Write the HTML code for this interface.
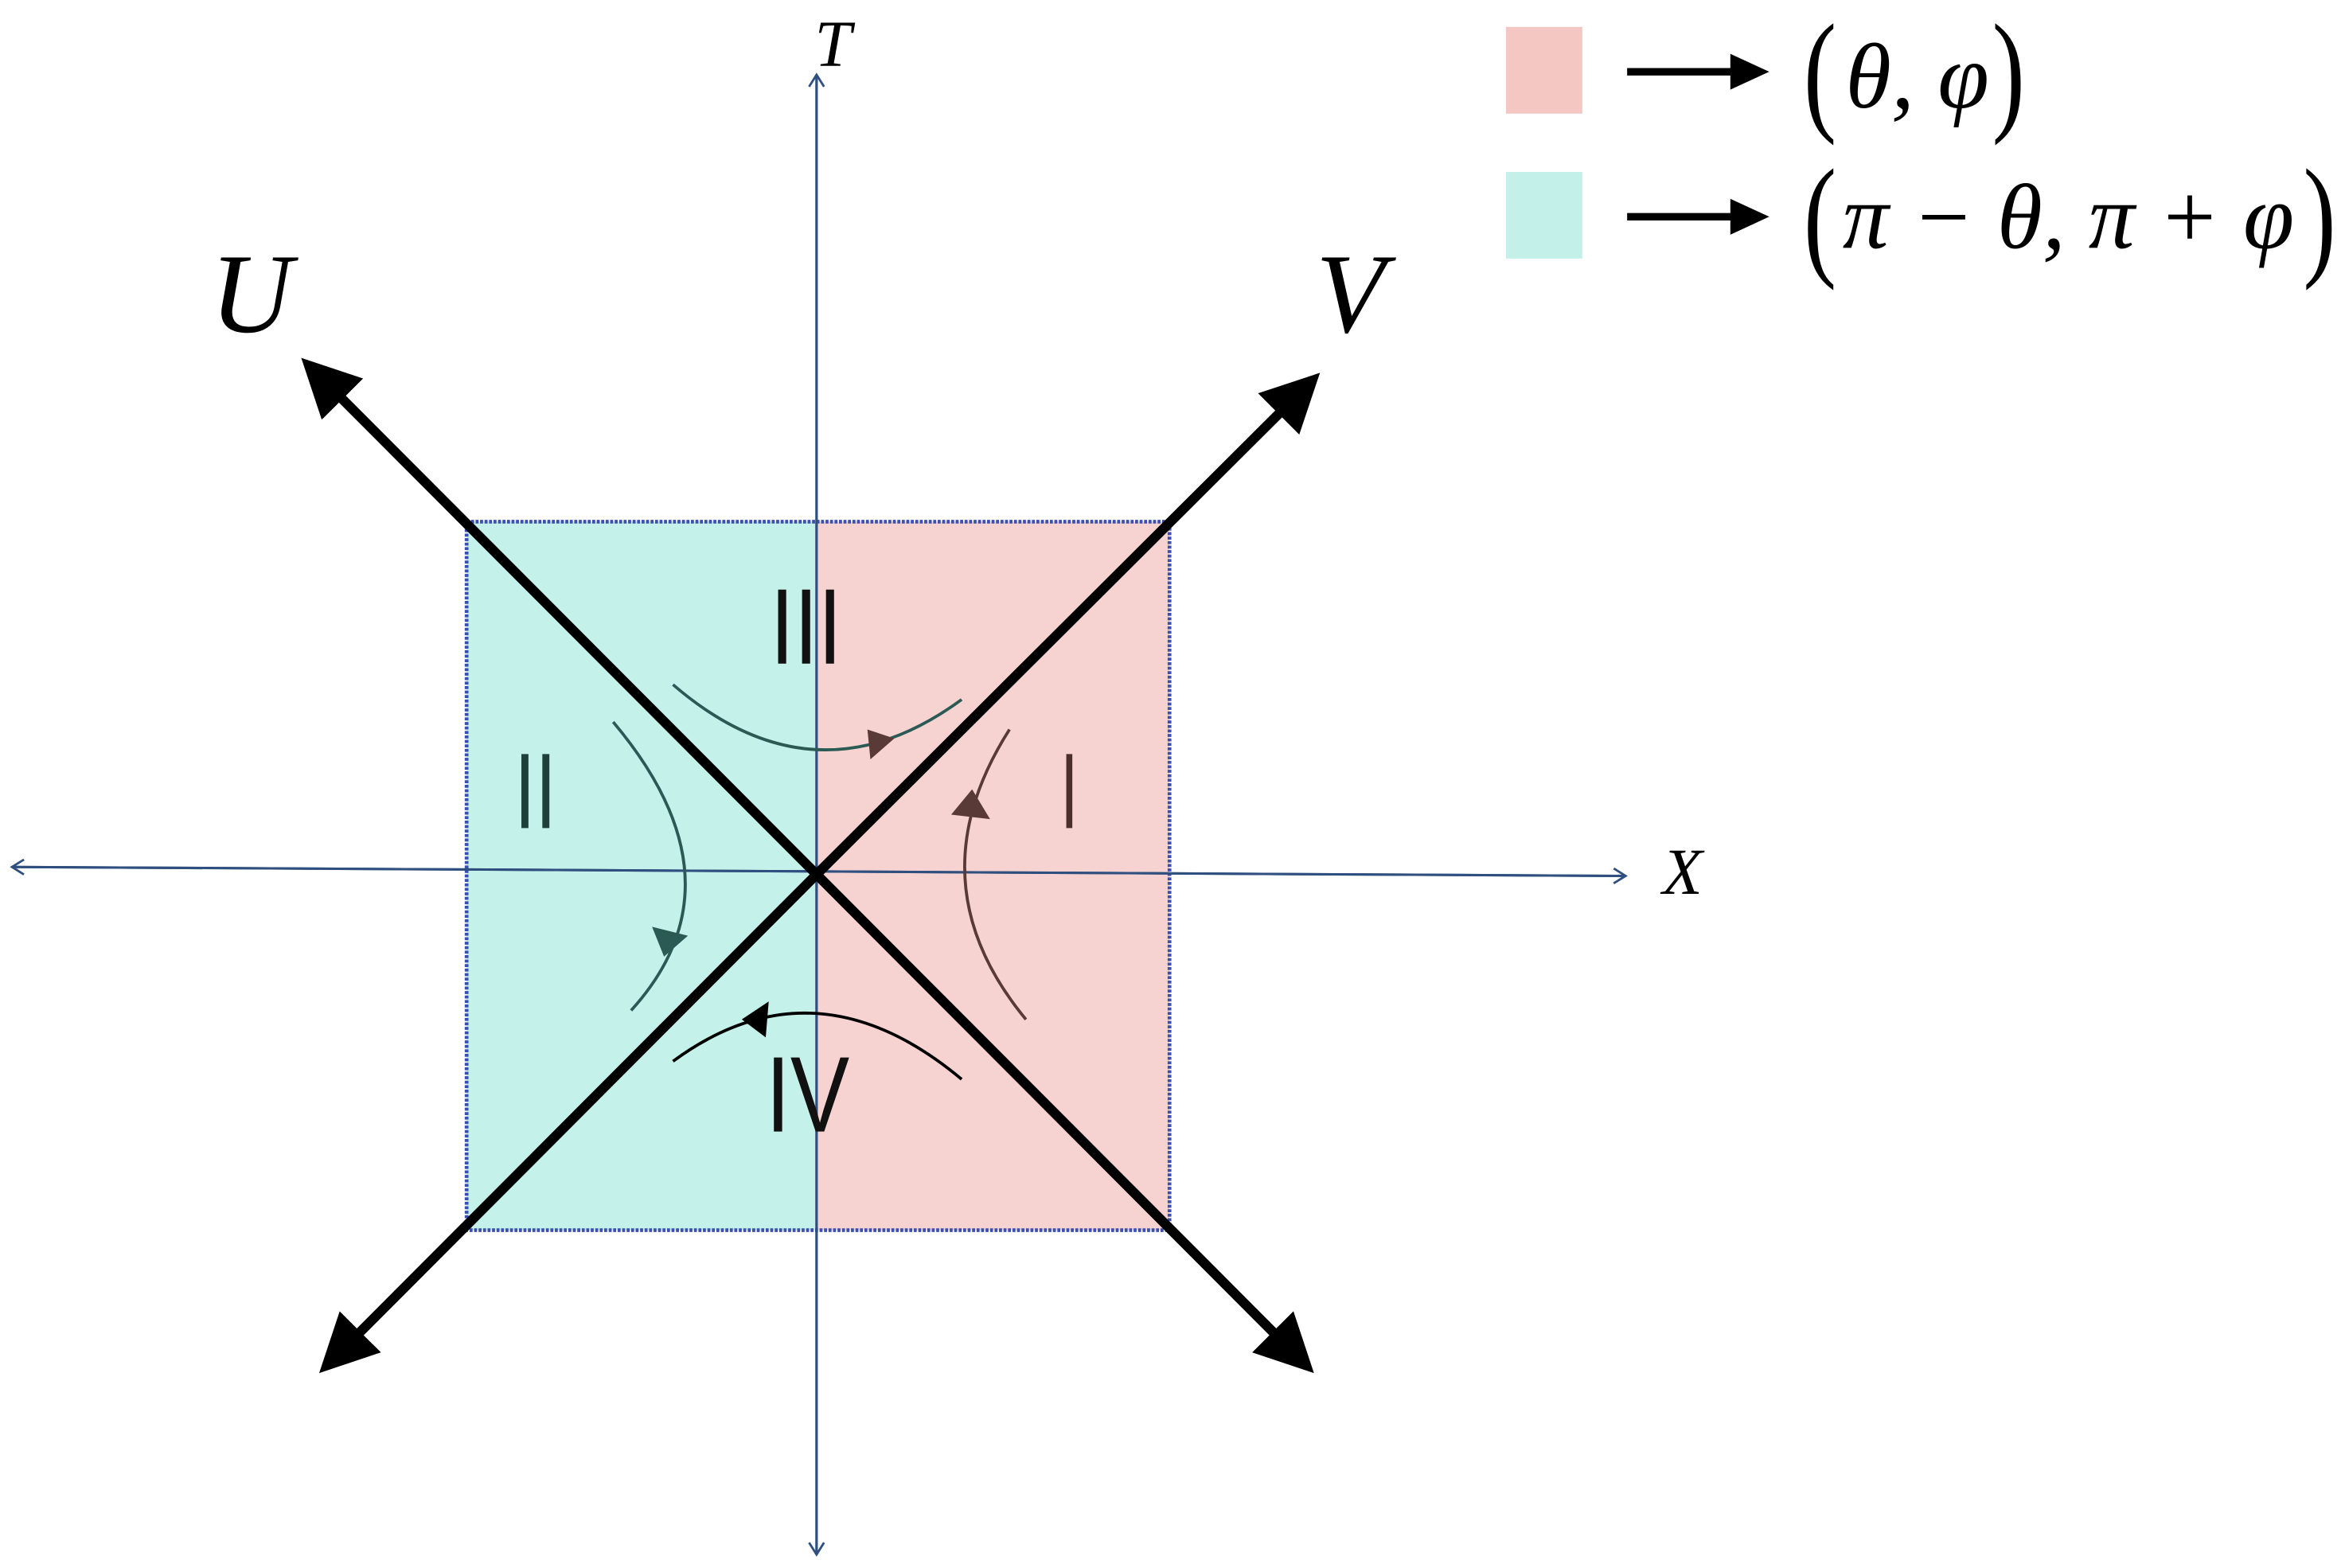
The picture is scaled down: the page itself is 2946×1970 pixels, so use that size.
<!DOCTYPE html>
<html><head><meta charset="utf-8"><style>
html,body{margin:0;padding:0;background:#fff;}
svg{display:block;}
</style></head><body>
<svg width="2946" height="1970" viewBox="0 0 1568 1049" preserveAspectRatio="none" xmlns="http://www.w3.org/2000/svg">
<defs>
<marker id="big" markerWidth="6" markerHeight="6" refX="5" refY="3" orient="auto" markerUnits="strokeWidth"><path d="M0,0 L6,3 L0,6 z" fill="#000"/></marker>
<marker id="thin" markerWidth="12" markerHeight="12" refX="10" refY="6" orient="auto" markerUnits="userSpaceOnUse"><path d="M2,1 L10,6 L2,11" fill="none" stroke="#2f4f7f" stroke-width="1.5"/></marker>
</defs>
<rect x="312" y="349" width="234" height="474" fill="#c4f1ea"/>
<rect x="546" y="349" width="236" height="474" fill="#f6d3d0"/>
<rect x="312" y="349" width="470" height="474" fill="none" stroke="#3a4fb0" stroke-width="2.5" stroke-dasharray="2,1"/>
<line x1="546" y1="1040" x2="546" y2="50" stroke="#2f4f7f" stroke-width="1.6" marker-end="url(#thin)"/>
<line x1="546" y1="50" x2="546" y2="1040" stroke="#2f4f7f" stroke-width="1.6" marker-end="url(#thin)"/>
<line x1="8" y1="580" x2="1087" y2="586" stroke="#2f4f7f" stroke-width="1.6" marker-end="url(#thin)"/>
<line x1="1087" y1="586" x2="8" y2="580" stroke="#2f4f7f" stroke-width="1.6" marker-end="url(#thin)"/>
<line x1="546" y1="585" x2="206" y2="244" stroke="#000" stroke-width="6.5" marker-end="url(#big)"/>
<line x1="546" y1="585" x2="878" y2="254" stroke="#000" stroke-width="6.5" marker-end="url(#big)"/>
<line x1="546" y1="585" x2="218" y2="914" stroke="#000" stroke-width="6.5" marker-end="url(#big)"/>
<line x1="546" y1="585" x2="874" y2="914" stroke="#000" stroke-width="6.5" marker-end="url(#big)"/>
<path d="M450,458 Q545,540 643,468" fill="none" stroke="#2b5a55" stroke-width="2"/>
<path d="M580,488 L598,494 L582,508 z" fill="#5a3a36"/>
<path d="M410,483 Q500,590 422,676" fill="none" stroke="#2b5a55" stroke-width="2"/>
<path d="M436,620 L460,626 L444,640 z" fill="#2b5a55"/>
<path d="M686,682 Q610,590 675,488" fill="none" stroke="#5a3a36" stroke-width="2"/>
<path d="M636,545 L650,528 L662,548 z" fill="#5a3a36"/>
<path d="M450,710 Q545,640 643,722" fill="none" stroke="#000" stroke-width="2"/>
<path d="M496,682 L514,670 L512,694 z" fill="#000"/>
<g font-family="Liberation Sans, sans-serif" font-size="72" lengthAdjust="spacingAndGlyphs">
<text x="515" y="444" fill="#111" textLength="48" lengthAdjust="spacingAndGlyphs">III</text>
<text x="344" y="554" fill="#1f3f3b" textLength="28" lengthAdjust="spacingAndGlyphs">II</text>
<text x="709" y="554" fill="#4a2f2c" textLength="12" lengthAdjust="spacingAndGlyphs">I</text>
<text x="512" y="757" fill="#111" textLength="56" lengthAdjust="spacingAndGlyphs">IV</text>
</g>
<g font-family="Liberation Serif, serif" font-style="italic" fill="#000" text-anchor="middle">
<text x="168" y="222" font-size="76">U</text>
<text x="903" y="222" font-size="76">V</text>
<text x="557" y="44" font-size="44">T</text>
<text x="1125" y="598" font-size="44">X</text>
</g>
<rect x="1007" y="18" width="51" height="58" fill="#f4c7c2"/>
<rect x="1007" y="115" width="51" height="58" fill="#c3f1ea"/>
<line x1="1088" y1="48" x2="1160" y2="48" stroke="#000" stroke-width="5"/>
<path d="M1157,36 L1183,48 L1157,60 z" fill="#000"/>
<line x1="1088" y1="145" x2="1160" y2="145" stroke="#000" stroke-width="5"/>
<path d="M1157,133 L1183,145 L1157,157 z" fill="#000"/>
<g font-family="Liberation Serif, serif" fill="#000">
<text x="1206" y="78" font-size="90" textLength="22" lengthAdjust="spacingAndGlyphs">(</text>
<text x="1234" y="72" font-size="62" font-style="italic" textLength="96" lengthAdjust="spacingAndGlyphs">θ, φ</text>
<text x="1332" y="78" font-size="90" textLength="22" lengthAdjust="spacingAndGlyphs">)</text>
<text x="1206" y="175" font-size="90" textLength="22" lengthAdjust="spacingAndGlyphs">(</text>
<text x="1232" y="166" font-size="62" font-style="italic" textLength="302" lengthAdjust="spacingAndGlyphs">π − θ, π + φ</text>
<text x="1540" y="175" font-size="90" textLength="22" lengthAdjust="spacingAndGlyphs">)</text>
</g>
</svg>
</body></html>
